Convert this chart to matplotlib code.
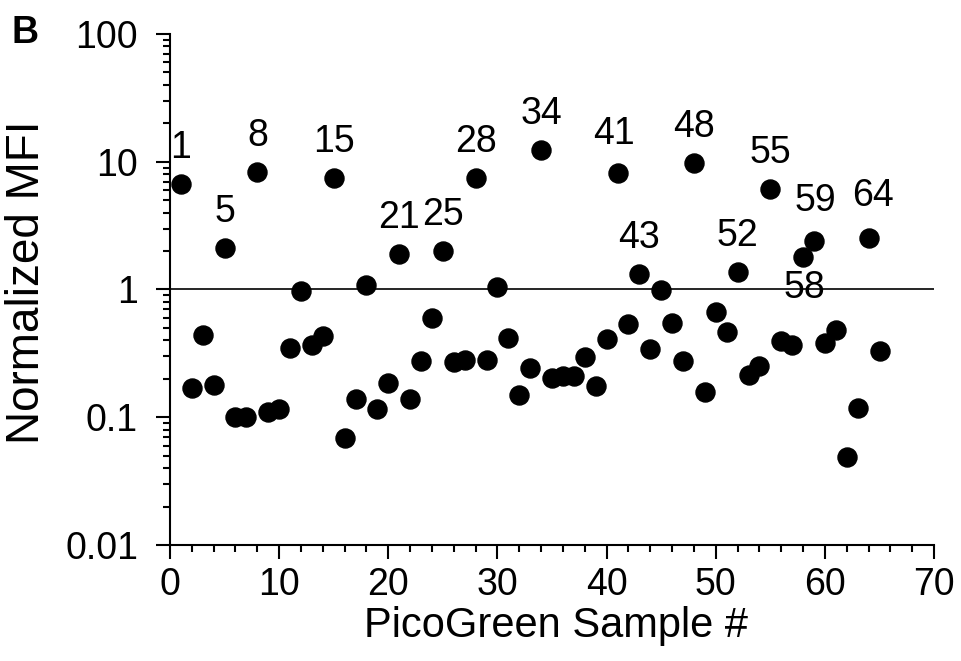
import matplotlib
matplotlib.use('Agg')
import matplotlib.pyplot as plt
from matplotlib.ticker import LogLocator, MultipleLocator, FixedLocator, NullFormatter

plt.rcParams['font.family'] = ['Liberation Sans', 'DejaVu Sans']

# sample number and normalized MFI
samples = list(range(1, 66))
mfi = [6.7, 0.17, 0.44, 0.18, 2.1, 0.10, 0.10, 8.3, 0.11, 0.117,
       0.35, 0.98, 0.37, 0.43, 7.4, 0.069, 0.138, 1.09, 0.117, 0.187,
       1.9, 0.138, 0.278, 0.60, 2.0, 0.273, 0.283, 7.4, 0.283, 1.05,
       0.42, 0.148, 0.245, 12.3, 0.202, 0.212, 0.212, 0.294, 0.176, 0.411,
       8.1, 0.538, 1.33, 0.341, 0.99, 0.545, 0.277, 9.75, 0.157, 0.664,
       0.463, 1.38, 0.215, 0.254, 6.1, 0.397, 0.369, 1.78, 2.4, 0.38,
       0.483, 0.049, 0.118, 2.55, 0.331]
labelled = [1, 5, 8, 15, 21, 25, 28, 34, 41, 43, 48, 52, 55, 58, 59, 64]

# label offsets in pixels (default: straight above the point)
label_offset = {41: (-4, 39), 59: (1, 40), 64: (4, 42), 58: (1, -31)}

fig = plt.figure(figsize=(9.61, 6.61), dpi=100)
ax = fig.add_axes([0.1769, 0.1755, 0.7951, 0.7731])

ax.plot(samples, mfi, 'o', color='black', markersize=13.7, zorder=3)
ax.axhline(1, color='black', linewidth=1.2, zorder=2)

for s in labelled:
    dx, dy = label_offset.get(s, (0, 36))
    ax.annotate(str(s), (s, mfi[s - 1]), xytext=(dx, dy), textcoords='offset pixels',
                ha='center', va='center', fontsize=27)

ax.set_yscale('log')
ax.set_xlim(0, 70)
ax.set_ylim(0.01, 100)
ax.xaxis.set_major_locator(MultipleLocator(10))
ax.xaxis.set_minor_locator(MultipleLocator(2))
ax.yaxis.set_major_locator(FixedLocator([0.01, 0.1, 1, 10, 100]))
ax.yaxis.set_minor_locator(LogLocator(base=10, subs=range(2, 10)))
ax.yaxis.set_minor_formatter(NullFormatter())
ax.set_yticklabels(['0.01', '0.1', '1', '10', '100'])

for side in ('top', 'right'):
    ax.spines[side].set_visible(False)
for side in ('left', 'bottom'):
    ax.spines[side].set_linewidth(1.5)

ax.tick_params(which='major', length=10, width=1.5, labelsize=27)
ax.tick_params(axis='y', which='major', pad=13)
ax.tick_params(axis='x', which='major', pad=6)
ax.tick_params(which='minor', length=5, width=1.5)

ax.set_xlabel('PicoGreen Sample #', fontsize=30)
ax.xaxis.set_label_coords(0.505, -0.12)
ax.set_ylabel('Normalized MFI', fontsize=33)
ax.yaxis.set_label_coords(-0.159, 0.515)

fig.text(0.012, 0.95, 'B', fontsize=27, fontweight='bold', va='center', ha='left')

fig.savefig('out.png', dpi=100)
